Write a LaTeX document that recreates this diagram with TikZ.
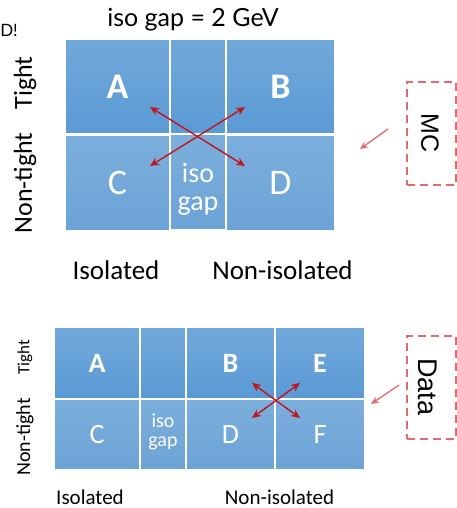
\documentclass[tikz,border=0pt]{standalone}
\usepackage{fontspec}
\setmainfont{Carlito}
\newfontfamily\latofont{Lato}
\newfontfamily\arialfont{Liberation Sans}
\usetikzlibrary{arrows.meta}
\definecolor{celltop}{HTML}{72A8DA}
\definecolor{cellbot}{HTML}{5A9AD5}
\definecolor{lowtop}{HTML}{7BAEDC}
\definecolor{lowbot}{HTML}{6CA3D6}
\definecolor{xred}{HTML}{C0141E}
\definecolor{boxred}{HTML}{E36A6A}
\tikzset{
  cell/.style={rectangle, inner sep=0pt, draw=white, line width=1.4pt,
    top color=celltop, bottom color=cellbot, text=white},
  lowcell/.style={cell, top color=lowtop, bottom color=lowbot},
  bigmark/.style={font=\fontsize{36}{40}\selectfont},
  smallmark/.style={font=\fontsize{28}{32}\selectfont},
  gaptext/.style={text=white, anchor=base, inner sep=0pt},
  cross/.style={draw=xred, line width=1.4pt,
    {Stealth[length=9pt,width=8pt]}-{Stealth[length=9pt,width=8pt]}},
  tagbox/.style={rectangle, draw=boxred, line width=1.4pt,
    dash pattern=on 8pt off 5pt, inner sep=0pt},
  pointer/.style={draw=boxred, line width=1.3pt, -{Stealth[length=8pt,width=7pt]}},
  axis/.style={anchor=base, inner sep=0pt},
}
\begin{document}
\begin{tikzpicture}[x=1pt,y=-1pt]
\useasboundingbox (0,0) rectangle (457,508);

% headline
\node[font=\latofont\fontsize{25}{28}\selectfont, anchor=base, inner sep=0pt] (title) at (193,27) {iso gap = 2 GeV};
\node[font=\latofont\fontsize{17}{20}\selectfont, anchor=east, inner sep=0pt] (clip) at (18,30) {D!};

% ---- upper 2x3 grid (MC) ----
\node[cell, minimum width=105pt, minimum height=95pt, bigmark] (mA) at (117.5,86.5) {\bfseries A};
\node[cell, minimum width=56pt, minimum height=95pt] (mG1) at (198,86.5) {};
\node[cell, minimum width=109pt, minimum height=95pt, bigmark] (mB) at (280.5,86.5) {\bfseries B};
\node[lowcell, minimum width=105pt, minimum height=96pt, bigmark] (mC) at (117.5,183) {C};
\node[lowcell, minimum width=56pt, minimum height=96pt] (mG2) at (198,182) {};
\node[lowcell, minimum width=109pt, minimum height=96pt, bigmark] (mD) at (280.5,183) {D};
\node[gaptext, font=\fontsize{28}{28}\selectfont] (mIsoWord) at (198,182) {iso};
\node[gaptext, font=\fontsize{28}{28}\selectfont] (mGapWord) at (198,210) {gap};

\coordinate (mx1) at (150,107);
\coordinate (mx2) at (245,166);
\coordinate (mx3) at (245,107);
\coordinate (mx4) at (150,166);
\draw[cross] (mx1) -- (mx2);
\draw[cross] (mx3) -- (mx4);

\node[rotate=90, font=\fontsize{26}{30}\selectfont] (mTight) at (25,83) {Tight};
\node[rotate=90, font=\fontsize{26}{30}\selectfont] (mNon) at (25,183) {Non-tight};
\node[axis, font=\fontsize{27}{30}\selectfont] (mIso) at (116,279) {Isolated};
\node[axis, font=\fontsize{27}{30}\selectfont] (mNiso) at (282.5,279) {Non-isolated};

\node[tagbox, minimum width=49pt, minimum height=103pt] (mcbox) at (431.5,133.5) {};
\node[rotate=-90, font=\arialfont\fontsize{25}{28}\selectfont] (mctext) at (430,133) {MC};
\coordinate (mcp1) at (388,129);
\coordinate (mcp2) at (360,149);
\draw[pointer] (mcp1) -- (mcp2);

% ---- lower 2x4 grid (Data) ----
\node[cell, minimum width=86pt, minimum height=72pt, smallmark] (dA) at (97,363) {\bfseries A};
\node[cell, minimum width=46pt, minimum height=72pt] (dG1) at (163,363) {};
\node[cell, minimum width=89pt, minimum height=72pt, smallmark] (dB) at (230.5,363) {\bfseries B};
\node[cell, minimum width=90pt, minimum height=72pt, smallmark] (dE) at (320,363) {\bfseries E};
\node[lowcell, minimum width=86pt, minimum height=71pt, smallmark] (dC) at (97,434.5) {C};
\node[lowcell, minimum width=46pt, minimum height=71pt] (dG2) at (163,434.5) {};
\node[lowcell, minimum width=89pt, minimum height=71pt, smallmark] (dD) at (230.5,434.5) {D};
\node[lowcell, minimum width=90pt, minimum height=71pt, smallmark] (dF) at (320,434.5) {F};
\node[gaptext, font=\fontsize{20}{20}\selectfont] (dIsoWord) at (163,427) {iso};
\node[gaptext, font=\fontsize{20}{20}\selectfont] (dGapWord) at (163,446) {gap};

\coordinate (dx1) at (252,383);
\coordinate (dx2) at (300,418);
\coordinate (dx3) at (300,383);
\coordinate (dx4) at (252,418);
\draw[cross] (dx1) -- (dx2);
\draw[cross] (dx3) -- (dx4);

\node[rotate=90, font=\fontsize{17}{20}\selectfont] (dTight) at (25,357) {Tight};
\node[rotate=90, font=\fontsize{20}{24}\selectfont] (dNon) at (25,437) {Non-tight};
\node[axis, font=\fontsize{21}{24}\selectfont] (dIso) at (90,504) {Isolated};
\node[axis, font=\fontsize{21}{24}\selectfont] (dNiso) at (279.5,504) {Non-isolated};

\node[tagbox, minimum width=49pt, minimum height=103pt] (databox) at (431.5,387.5) {};
\node[rotate=-90, font=\arialfont\fontsize{27}{30}\selectfont] (datatext) at (428,387) {Data};
\coordinate (dp1) at (399,385);
\coordinate (dp2) at (371,404);
\draw[pointer] (dp1) -- (dp2);
\end{tikzpicture}
\end{document}
